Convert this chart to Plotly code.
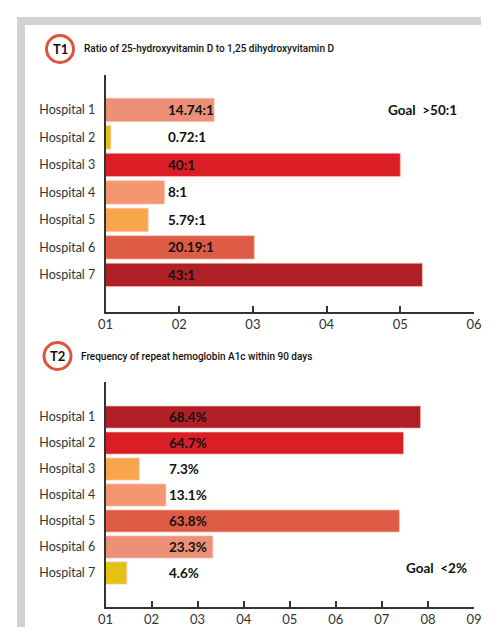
import plotly.graph_objects as go

# data
hospitals = ["Hospital 1", "Hospital 2", "Hospital 3", "Hospital 4",
             "Hospital 5", "Hospital 6", "Hospital 7"]

t1_values = [14.74, 0.72, 40, 8, 5.79, 20.19, 43]
t1_labels = ["14.74:1", "0.72:1", "40:1", "8:1", "5.79:1", "20.19:1", "43:1"]
t1_colors = ["#EC9077", "#E5C114", "#DB1E26", "#F59672", "#F9A54B", "#DE5B45", "#B01F25"]
t1_ticks = ["01", "02", "03", "04", "05", "06"]

t2_values = [68.4, 64.7, 7.3, 13.1, 63.8, 23.3, 4.6]
t2_labels = ["68.4%", "64.7%", "7.3%", "13.1%", "63.8%", "23.3%", "4.6%"]
t2_colors = ["#B01F25", "#DB1E26", "#F9A54B", "#F59672", "#DE5B45", "#EC9077", "#E5C114"]
t2_ticks = ["01", "02", "03", "04", "05", "06", "07", "08", "09"]

W, H = 500, 638
OFF = 8  # page body margin, positions below are screen pixels
def px(x): return (x - OFF) / W
def py(y): return 1 - (y - OFF) / H

label_font = dict(family="Lato, Noto Sans, sans-serif", size=12.5, color="#333333")
value_font = dict(family="Lato, Noto Sans, sans-serif", size=13.5, color="#111111")
# no condensed face available, so a smaller medium weight keeps the title width
title_font = dict(family="Roboto, Liberation Sans, sans-serif", size=10, color="#111111", weight=500)

fig = go.Figure()
fig.add_trace(go.Bar(y=hospitals, x=t1_values, orientation="h", width=0.85,
                     marker=dict(color=t1_colors, line=dict(color="rgba(255,190,175,0.7)", width=1)),
                     xaxis="x", yaxis="y", hoverinfo="skip", showlegend=False))
fig.add_trace(go.Bar(y=hospitals, x=t2_values, orientation="h", width=0.85,
                     marker=dict(color=t2_colors, line=dict(color="rgba(255,190,175,0.7)", width=1)),
                     xaxis="x2", yaxis="y2", hoverinfo="skip", showlegend=False))

xdom = [px(105.5), px(474)]
common_x = dict(showgrid=False, zeroline=False, showline=True, linecolor="#333333", linewidth=1.5,
                ticks="inside", ticklen=6, tickwidth=1.5, tickcolor="#333333", automargin=False,
                tickfont=dict(family="Lato, Noto Sans, sans-serif", size=13, color="#333333"),
                fixedrange=True)
common_y = dict(showgrid=False, zeroline=False, showline=True, linecolor="#333333", linewidth=1.5,
                ticks="", ticklabelstandoff=6, tickfont=label_font, type="category", automargin=False)

fig.update_layout(
    width=W, height=H, margin=dict(l=0, r=0, t=0, b=0, autoexpand=False),
    paper_bgcolor="white", plot_bgcolor="white", bargap=0.15,
    xaxis=dict(domain=xdom, anchor="y", range=[0, 50],
               tickvals=[0, 10, 20, 30, 40, 50], ticktext=t1_ticks, **common_x),
    yaxis=dict(domain=[py(312), py(75)], anchor="x", range=[7.35, -1.27], **common_y),
    xaxis2=dict(domain=xdom, anchor="y2", range=[0, 80],
                tickvals=[0, 10, 20, 30, 40, 50, 60, 70, 80], ticktext=t2_ticks, **common_x),
    yaxis2=dict(domain=[py(607), py(382)], anchor="x2", range=[7.31, -1.35], **common_y),
)

# value labels at a fixed position inside the plot area
for i, h in enumerate(hospitals):
    fig.add_annotation(x=0.163, xref="x domain", y=h, yref="y", text="<b>%s</b>" % t1_labels[i],
                       showarrow=False, xanchor="left", yanchor="middle", font=value_font)
    fig.add_annotation(x=0.167, xref="x2 domain", y=h, yref="y2", text="<b>%s</b>" % t2_labels[i],
                       showarrow=False, xanchor="left", yanchor="middle", font=value_font)

# goals
fig.add_annotation(x=px(386), y=py(110), xref="paper", yref="paper", text="<b>Goal  >50:1</b>",
                   showarrow=False, xanchor="left", yanchor="middle", font=value_font)
fig.add_annotation(x=px(404), y=py(568), xref="paper", yref="paper", text="<b>Goal  <2%</b>",
                   showarrow=False, xanchor="left", yanchor="middle", font=value_font)

# grey frame
fig.add_shape(type="rect", xref="paper", yref="paper", x0=px(17), x1=px(481), y0=py(25), y1=py(17),
              fillcolor="#D1D2D4", line_width=0, layer="below")
fig.add_shape(type="rect", xref="paper", yref="paper", x0=px(17), x1=px(25), y0=py(627), y1=py(17),
              fillcolor="#D1D2D4", line_width=0, layer="below")

# numbered badges and section titles
for cx, cy, tag, title, tx in [(60, 49, "T1", "Ratio of 25-hydroxyvitamin D to 1,25 dihydroxyvitamin D", 82),
                               (57.5, 356, "T2", "Frequency of repeat hemoglobin A1c within 90 days", 79)]:
    r = 13.5
    fig.add_shape(type="circle", xref="paper", yref="paper",
                  x0=px(cx - r), x1=px(cx + r), y0=py(cy + r), y1=py(cy - r),
                  line=dict(color="#E0533A", width=3), fillcolor="white")
    fig.add_annotation(x=px(cx), y=py(cy), xref="paper", yref="paper", text="<b>%s</b>" % tag,
                       showarrow=False, xanchor="center", yanchor="middle",
                       font=dict(family="Lato, Noto Sans, sans-serif", size=13, color="#111111"))
    fig.add_annotation(x=px(tx), y=py(cy), xref="paper", yref="paper", text=title,
                       showarrow=False, xanchor="left", yanchor="middle", font=title_font)

fig.write_html("out.html")
